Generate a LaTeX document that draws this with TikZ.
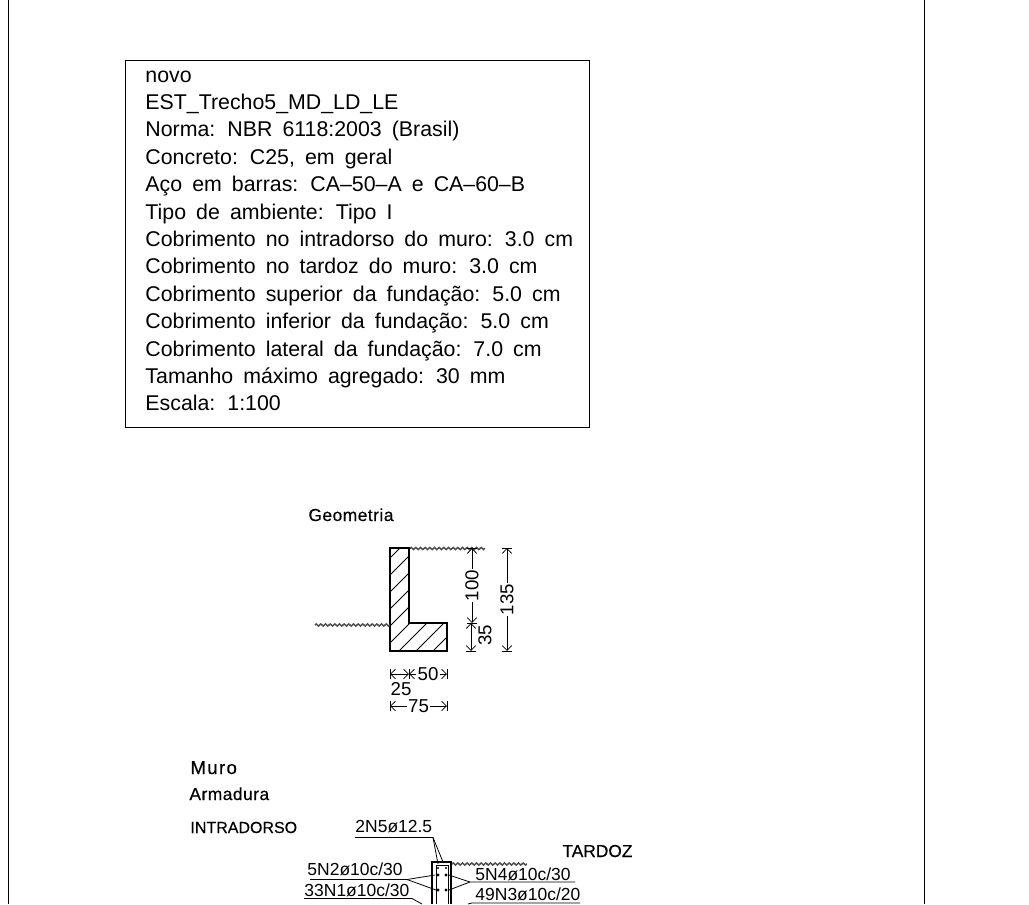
\documentclass[tikz,border=0pt]{standalone}
\usepackage{fontspec}
\setmainfont[WordSpace=1.7]{Liberation Sans}
\newfontfamily\titleFont[FakeBold=0.35,LetterSpace=3]{Liberation Sans}
\usetikzlibrary{arrows.meta,decorations.pathmorphing}
\tikzstyle{drawing} = [x = .75pt, y = -.75pt, line width = .7pt]
\tikzstyle{frameLine} = [color=black, line width = .6pt]
\tikzstyle{memoText} = [font=\fontsize{16}{18}\selectfont, anchor=base west, inner sep=0pt]
\tikzstyle{dimText} = [font=\fontsize{14}{15}\selectfont, inner sep=1pt, fill=white]
\tikzstyle{titleText} = [font=\titleFont\fontsize{13}{15}\selectfont, anchor=base west, inner sep=0pt, text=black]
\tikzstyle{barText} = [font=\fontsize{13.1}{15}\selectfont, anchor=base west, inner sep=0pt]
\tikzstyle{dimLine} = [line width=.6pt, {Straight Barb[length=3.6pt,width=7pt]}-{Straight Barb[length=3.6pt,width=7pt]}]
\tikzstyle{sectionLine} = [line width = 1pt]
\tikzstyle{hatchLine} = [line width = .65pt]
\tikzstyle{leaderLine} = [line width = .6pt]
\tikzstyle{groundLine} = [line width = 1.1pt, color=black!70, decorate, decoration={zigzag, amplitude=.8pt, segment length=3.5pt}]
\newcommand{\verticalDim}[5]{
  \draw [dimLine] (#1,#2) -- (#1,#3);
  \node (#5) [dimText, rotate=90] at (#1,{(#2+#3)/2}) {#4};
  \draw [leaderLine] (#1-5,#2) -- +(10,0);
  \draw [leaderLine] (#1-5,#3) -- +(10,0);
}
\newcommand{\horizontalDim}[5]{
  \draw [dimLine] (#2,#1) -- (#3,#1);
  \node (#5) [dimText] at ({(#2+#3)/2},#1) {#4};
  \draw [leaderLine] (#2,#1-5) -- +(0,10);
  \draw [leaderLine] (#3,#1-5) -- +(0,10);
}
\newcommand{\barDot}[3]{\fill (#1,#2) circle (#3);}
\begin{document}
\begin{tikzpicture}[drawing]
  \useasboundingbox (0,0) rectangle (1029,904);
  \draw [frameLine] (8,0) -- (8,904);
  \draw [frameLine] (924,0) -- (924,904);

  \draw [frameLine] (125,60) rectangle (589,427);
  \foreach \row/\memoLine in {0/novo, 1/EST\_Trecho5\_MD\_LD\_LE, 2/Norma: NBR 6118:2003 (Brasil),
      3/{Concreto: C25, em geral}, 4/Aço em barras: CA--50--A e CA--60--B, 5/Tipo de ambiente: Tipo I,
      6/Cobrimento no intradorso do muro: 3.0 cm, 7/Cobrimento no tardoz do muro: 3.0 cm,
      8/Cobrimento superior da fundação: 5.0 cm, 9/Cobrimento inferior da fundação: 5.0 cm,
      10/Cobrimento lateral da fundação: 7.0 cm, 11/Tamanho máximo agregado: 30 mm, 12/Escala: 1:100} {
    \node (memo\row) [memoText] at (145,{82+27.4*\row}) {\memoLine};
  }

  % Geometria
  \node (geometria) [titleText] at (308,521) {Geometria};
  \begin{scope}
    \clip (390,548) -- (409,548) -- (409,623) -- (447,623) -- (447,651) -- (390,651) -- cycle;
    \foreach \c in {948,965,...,1098} {
      \draw [hatchLine] ({\c-660},660) -- ({\c-540},540);
    }
  \end{scope}
  \draw [sectionLine] (390,548) -- (409,548) -- (409,623) -- (447,623) -- (447,651) -- (390,651) -- cycle;
  \draw [groundLine] (410,548.5) -- (485,548.5);
  \draw [groundLine] (315,625) -- (390,625);

  \verticalDim{472}{548}{623}{100}{dimHundred}
  \draw [dimLine] (471,623) -- (471,651);
  \draw [leaderLine] (466,651) -- +(10,0);
  \node (dimThirtyFive) [dimText, fill=none, rotate=90] at (485,635) {35};
  \verticalDim{507}{548}{651}{135}{dimTotal}

  \draw [dimLine] (390,674) -- (409,674);
  \draw [dimLine] (409,674) -- (447,674);
  \draw [leaderLine] (390,669) -- +(0,10);
  \draw [leaderLine] (409,669) -- +(0,10);
  \draw [leaderLine] (447,669) -- +(0,10);
  \node (dimFifty) [dimText] at (428,674) {50};
  \node (dimQuarter) [dimText, fill=none] at (401,689) {25};
  \horizontalDim{706}{390}{447}{75}{dimBase}

  % Muro
  \node (muro) [titleText, font=\titleFont\addfontfeature{LetterSpace=7}\fontsize{14}{15}\selectfont] at (190,774) {Muro};
  \node (armadura) [titleText] at (189,800) {Armadura};
  \node (intradorso) [titleText, font=\titleFont\addfontfeature{LetterSpace=0}\fontsize{12}{15}\selectfont] at (190,833) {INTRADORSO};
  \node (tardoz) [titleText, font=\titleFont\addfontfeature{LetterSpace=0}\fontsize{13}{15}\selectfont] at (562,857) {TARDOZ};

  \draw [sectionLine] (432,904) |- (451,862) -- (451,904);
  \draw [leaderLine] (436,904) |- (448,865) -- (448,904);
  \draw [groundLine] (452,864) -- (527,864);
  \foreach \barY/\barR in {868/.9pt, 875/1.2pt, 890/1.2pt} {
    \barDot{438}{\barY}{\barR}
    \barDot{446}{\barY}{\barR}
  }

  \node (barFive) [barText] at (355,832) {2N5ø12.5};
  \draw [leaderLine] (355,837.5) -- (433,837.5) -- (438,864);
  \draw [leaderLine] (433,837.5) -- (443,862);

  \node (barTwo) [barText] at (307,875) {5N2ø10c/30};
  \draw [leaderLine] (310,879.5) -- (407,879.5) -- (435,875);
  \draw [leaderLine] (407,879.5) -- (436,890);

  \node (barOne) [barText] at (304,896.5) {33N1ø10c/30};
  \draw [leaderLine] (304,898.5) -- (412,898.5) -- (422,904);

  \node (barFour) [barText] at (475,880) {5N4ø10c/30};
  \draw [leaderLine] (575,882) -- (470,882) -- (449,875);
  \draw [leaderLine] (470,882) -- (449,890);

  \node (barThree) [barText] at (475,900) {49N3ø10c/20};
  \draw [leaderLine] (580,903) -- (472,903) -- (468,904);
\end{tikzpicture}
\end{document}
